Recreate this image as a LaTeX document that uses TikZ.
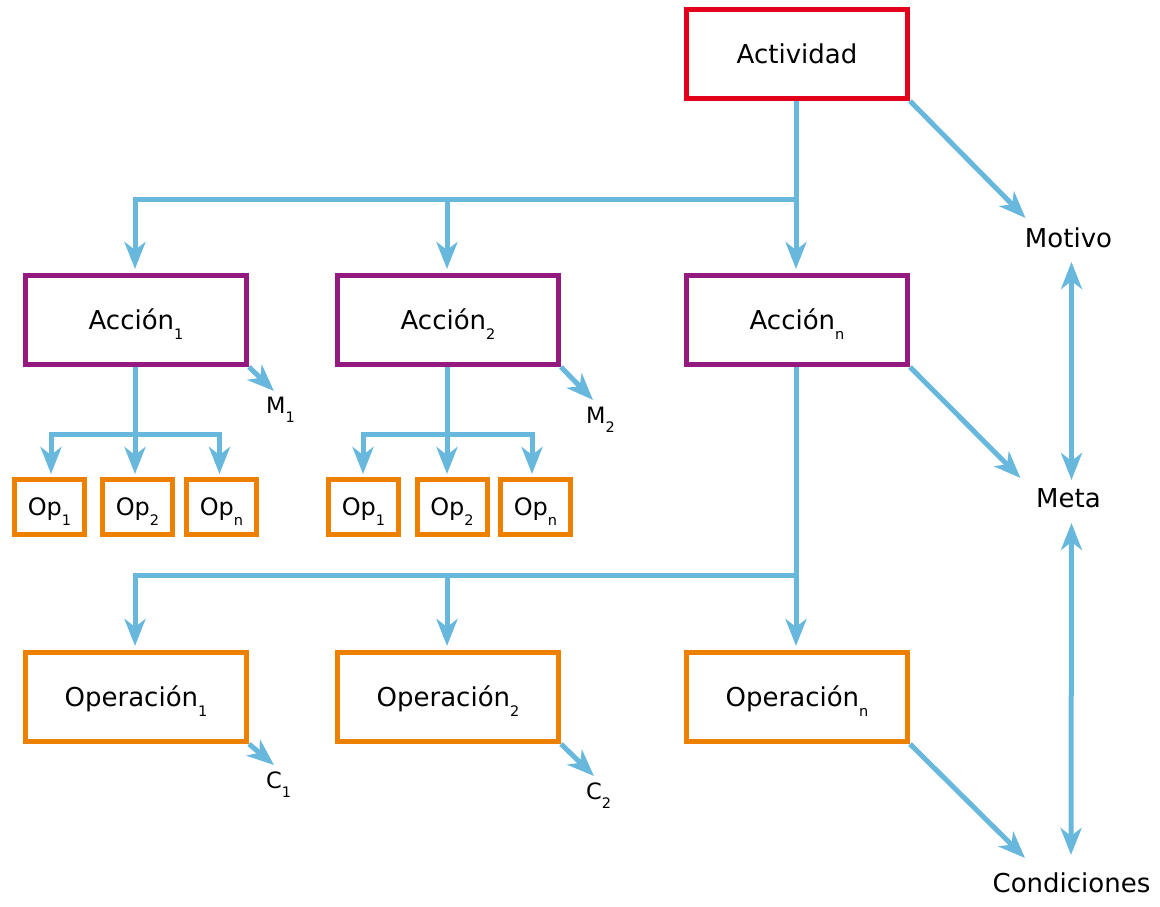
\documentclass[tikz,border=0pt]{standalone}
\usepackage{fontspec}
\setmainfont{DejaVu Sans}
\usetikzlibrary{arrows.meta,calc}
\definecolor{flow}{RGB}{104,184,222}
\definecolor{actred}{RGB}{226,0,26}
\definecolor{accpurple}{RGB}{148,26,128}
\definecolor{oporange}{RGB}{238,128,0}
\newcommand\idx[1]{\raisebox{-9.5pt}{\fontsize{14.5}{15}\selectfont #1}}
\tikzset{
  box/.style={draw, line width=5pt, fill=white, inner sep=0pt,
    text height=19pt, text depth=0pt, font=\fontsize{26}{30}\selectfont},
  actbox/.style={box, draw=actred, minimum width=221pt, minimum height=89pt},
  accbox/.style={box, draw=accpurple, minimum width=221pt, minimum height=89pt},
  opbox/.style={box, draw=oporange, minimum width=70pt, minimum height=55pt,
    text height=17.5pt, font=\fontsize{24}{28}\selectfont},
  operbox/.style={box, draw=oporange, minimum width=221pt, minimum height=89pt},
  lbl/.style={inner sep=0pt, anchor=base, font=\fontsize{26}{30}\selectfont},
  sidelbl/.style={inner sep=0pt, anchor=base west, font=\fontsize{22.5}{26}\selectfont},
  tip/.tip={Stealth[length=27pt, width=21pt, inset=8pt]},
  arr/.style={draw=flow, line width=5pt, -tip},
  darr/.style={draw=flow, line width=5pt, tip-tip},
}
\begin{document}
\begin{tikzpicture}[x=1pt, y=-1pt]
\useasboundingbox (0,0) rectangle (1160,907);

% activity level
\node[actbox] (act) at (797,54) {Actividad};

% actions
\node[accbox] (a1) at (136,320) {Acción\idx{1}};
\node[accbox] (a2) at (448,320) {Acción\idx{2}};
\node[accbox] (an) at (797,320) {Acción\idx{n}};

% operations of action 1 and 2
\node[opbox] (o11) at (49.5,507) {Op\idx{1}};
\node[opbox] (o12) at (137.5,507) {Op\idx{2}};
\node[opbox] (o1n) at (221.5,507) {Op\idx{n}};
\node[opbox] (o21) at (363.5,507) {Op\idx{1}};
\node[opbox] (o22) at (452,507) {Op\idx{2}};
\node[opbox] (o2n) at (535.5,507) {Op\idx{n}};

% operations
\node[operbox] (p1) at (136,697) {Operación\idx{1}};
\node[operbox] (p2) at (448,697) {Operación\idx{2}};
\node[operbox] (pn) at (797,697) {Operación\idx{n}};

% side labels
\node[sidelbl] (m1) at (266,413) {M\idx{1}};
\node[sidelbl] (m2) at (586,423) {M\idx{2}};
\node[sidelbl] (c1) at (266,788) {C\idx{1}};
\node[sidelbl] (c2) at (586,799) {C\idx{2}};
\node[lbl] (mot) at (1068.5,247) {Motivo};
\node[lbl] (meta) at (1068.5,507) {Meta};
\node[lbl] (cond) at (1071.5,892) {Condiciones};

% junction points of the tree
\coordinate (ja) at (796,199);
\coordinate (j1) at (135,434);
\coordinate (j2) at (447,434);
\coordinate (jp) at (796,575);

% activity to actions
\draw[arr, shorten >=4pt] (act.south -| ja) -- (ja) -- (ja |- an.north);
\draw[arr, shorten >=4pt] (ja) -| (a1.north -| j1);
\draw[arr, shorten >=4pt] (ja) -| (a2.north -| j2);

% action 1 to its operations
\draw[arr, shorten >=3pt] (a1.south -| j1) -- (j1) -- (j1 |- o12.north);
\draw[arr, shorten >=3pt] (j1) -| ($(o11.north)+(1.5,0)$);
\draw[arr, shorten >=3pt] (j1) -| ($(o1n.north)+(-2,0)$);

% action 2 to its operations
\draw[arr, shorten >=3pt] (a2.south -| j2) -- (j2) -- (j2 |- o22.north);
\draw[arr, shorten >=3pt] (j2) -| ($(o21.north)+(-0.5,0)$);
\draw[arr, shorten >=3pt] (j2) -| ($(o2n.north)+(-3.5,0)$);

% action n to operations
\draw[arr, shorten >=4pt] (an.south -| jp) -- (jp) -- (jp |- pn.north);
\draw[arr, shorten >=4pt] (jp) -| (p1.north -| j1);
\draw[arr, shorten >=4pt] (jp) -| (p2.north -| j2);

% goals and conditions of each level
\draw[arr] (a1.south east) -- ($(m1.base west)+(8,-22)$);
\draw[arr] (a2.south east) -- ($(m2.base west)+(7,-23)$);
\draw[arr] (p1.south east) -- ($(c1.base west)+(8,-23)$);
\draw[arr] (p2.south east) -- ($(c2.base west)+(8,-23)$);
\draw[arr] (act.south east) -- ($(mot.base)+(-43,-29)$);
\draw[arr] (an.south east) -- ($(meta.base)+(-48,-29)$);
\draw[arr] (pn.south east) -- ($(cond.base)+(-46.5,-34)$);

% relations between motive, goal and conditions
\draw[darr] ($(mot.base)+(3,15)$) -- ($(meta.base)+(3,-27)$);
\draw[darr] ($(meta.base)+(3,16)$) -- ($(cond.base)+(-0.5,-37)$);
\end{tikzpicture}
\end{document}
